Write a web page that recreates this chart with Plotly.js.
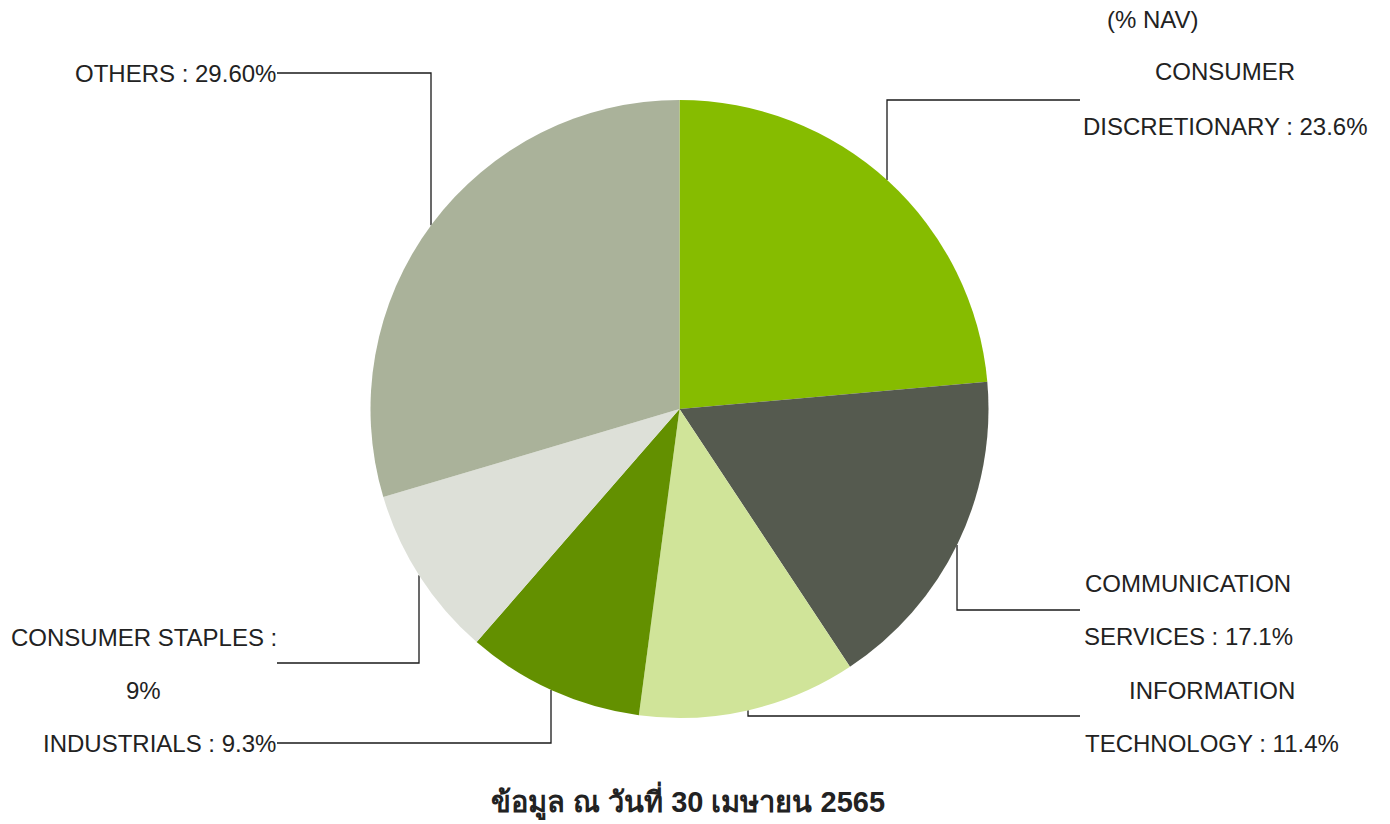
<!DOCTYPE html>
<html>
<head>
<meta charset="utf-8">
<script src="https://cdn.plot.ly/plotly-3.0.1.min.js"></script>
<style>html,body{margin:0;padding:0;background:#fff;}#chart{width:1390px;height:824px;}</style>
</head>
<body>
<div id="chart"></div>
<script>
// ---- data ----
var categories = ["CONSUMER DISCRETIONARY", "COMMUNICATION SERVICES", "INFORMATION TECHNOLOGY", "INDUSTRIALS", "CONSUMER STAPLES", "OTHERS"];
var values = [23.6, 17.1, 11.4, 9.3, 9, 29.6];
var colors = ["#86BC00", "#555A4F", "#D0E499", "#639000", "#DDE0D8", "#AAB29A"];
var labelLines = [
  ["CONSUMER", "DISCRETIONARY : 23.6%"],
  ["COMMUNICATION", "SERVICES : 17.1%"],
  ["INFORMATION", "TECHNOLOGY : 11.4%"],
  ["INDUSTRIALS : 9.3%"],
  ["CONSUMER STAPLES :", "9%"],
  ["OTHERS : 29.60%"]
];
var unitLabel = "(% NAV)";
var chartTitle = "ข้อมูล ณ วันที่ 30 เมษายน 2565";

// ---- layout geometry (pixels) ----
var W = 1390, H = 824;
var cx = 679.5, cy = 409, R = 309;
function px(x) { return x / W; }
function py(y) { return 1 - y / H; }

// label placement: text line centers and anchors; leader: [textEndX, elbowX, y]
var labelPos = [
  {lines: [[1225, 72, "center"], [1225, 127, "center"]], leader: [1080, 887, 100]},
  {lines: [[1188, 583, "center"], [1188, 636, "center"]], leader: [1080, 957, 610]},
  {lines: [[1212, 690, "center"], [1212, 743, "center"]], leader: [1080, 748, 716]},
  {lines: [[278, 743, "right"]], leader: [277, 551, 743]},
  {lines: [[143.5, 637, "center"], [143.5, 690, "center"]], leader: [277, 419, 663]},
  {lines: [[278, 73, "right"]], leader: [277, 431, 73]}
];

var fontFam = "'Liberation Sans', Arial, 'DejaVu Sans', sans-serif";
var annotations = [];
var shapes = [];
labelLines.forEach(function (lines, i) {
  var pos = labelPos[i];
  lines.forEach(function (t, j) {
    var p = pos.lines[j];
    annotations.push({
      xref: "paper", yref: "paper", x: px(p[0]), y: py(p[1]),
      xanchor: p[2], yanchor: "middle", showarrow: false, text: t,
      font: {family: fontFam, size: 24, color: "#222222"}
    });
  });
  var L = pos.leader;
  var ex = L[1], ey = L[2];
  var dx = ex - cx;
  var dy = Math.sqrt(Math.max(R * R - dx * dx, 0));
  var edgeY = ey < cy ? cy - dy : cy + dy;
  shapes.push({
    type: "path", xref: "paper", yref: "paper", layer: "below",
    path: "M" + px(L[0]) + "," + py(ey) + " L" + px(ex) + "," + py(ey) + " L" + px(ex) + "," + py(edgeY),
    line: {color: "#1a1a1a", width: 1.3}
  });
});
annotations.push({
  xref: "paper", yref: "paper", x: px(1153), y: py(20), xanchor: "center", yanchor: "middle",
  showarrow: false, text: unitLabel, font: {family: fontFam, size: 24, color: "#222222"}
});
annotations.push({
  xref: "paper", yref: "paper", x: px(688), y: py(800), xanchor: "center", yanchor: "middle",
  showarrow: false, text: "<b>" + chartTitle + "</b>", font: {family: fontFam, size: 29, color: "#222222"}
});

var trace = {
  type: "pie",
  labels: categories,
  values: values,
  sort: false,
  direction: "clockwise",
  rotation: 0,
  textinfo: "none",
  hoverinfo: "label+value",
  marker: {colors: colors, line: {width: 0}},
  showlegend: false,
  domain: {x: [px(cx - R), px(cx + R)], y: [py(cy + R), py(cy - R)]}
};

var layout = {
  width: W, height: H,
  margin: {l: 0, r: 0, t: 0, b: 0},
  paper_bgcolor: "#ffffff",
  showlegend: false,
  annotations: annotations,
  shapes: shapes
};

Plotly.newPlot("chart", [trace], layout, {displayModeBar: false, staticPlot: true});
</script>
</body>
</html>
